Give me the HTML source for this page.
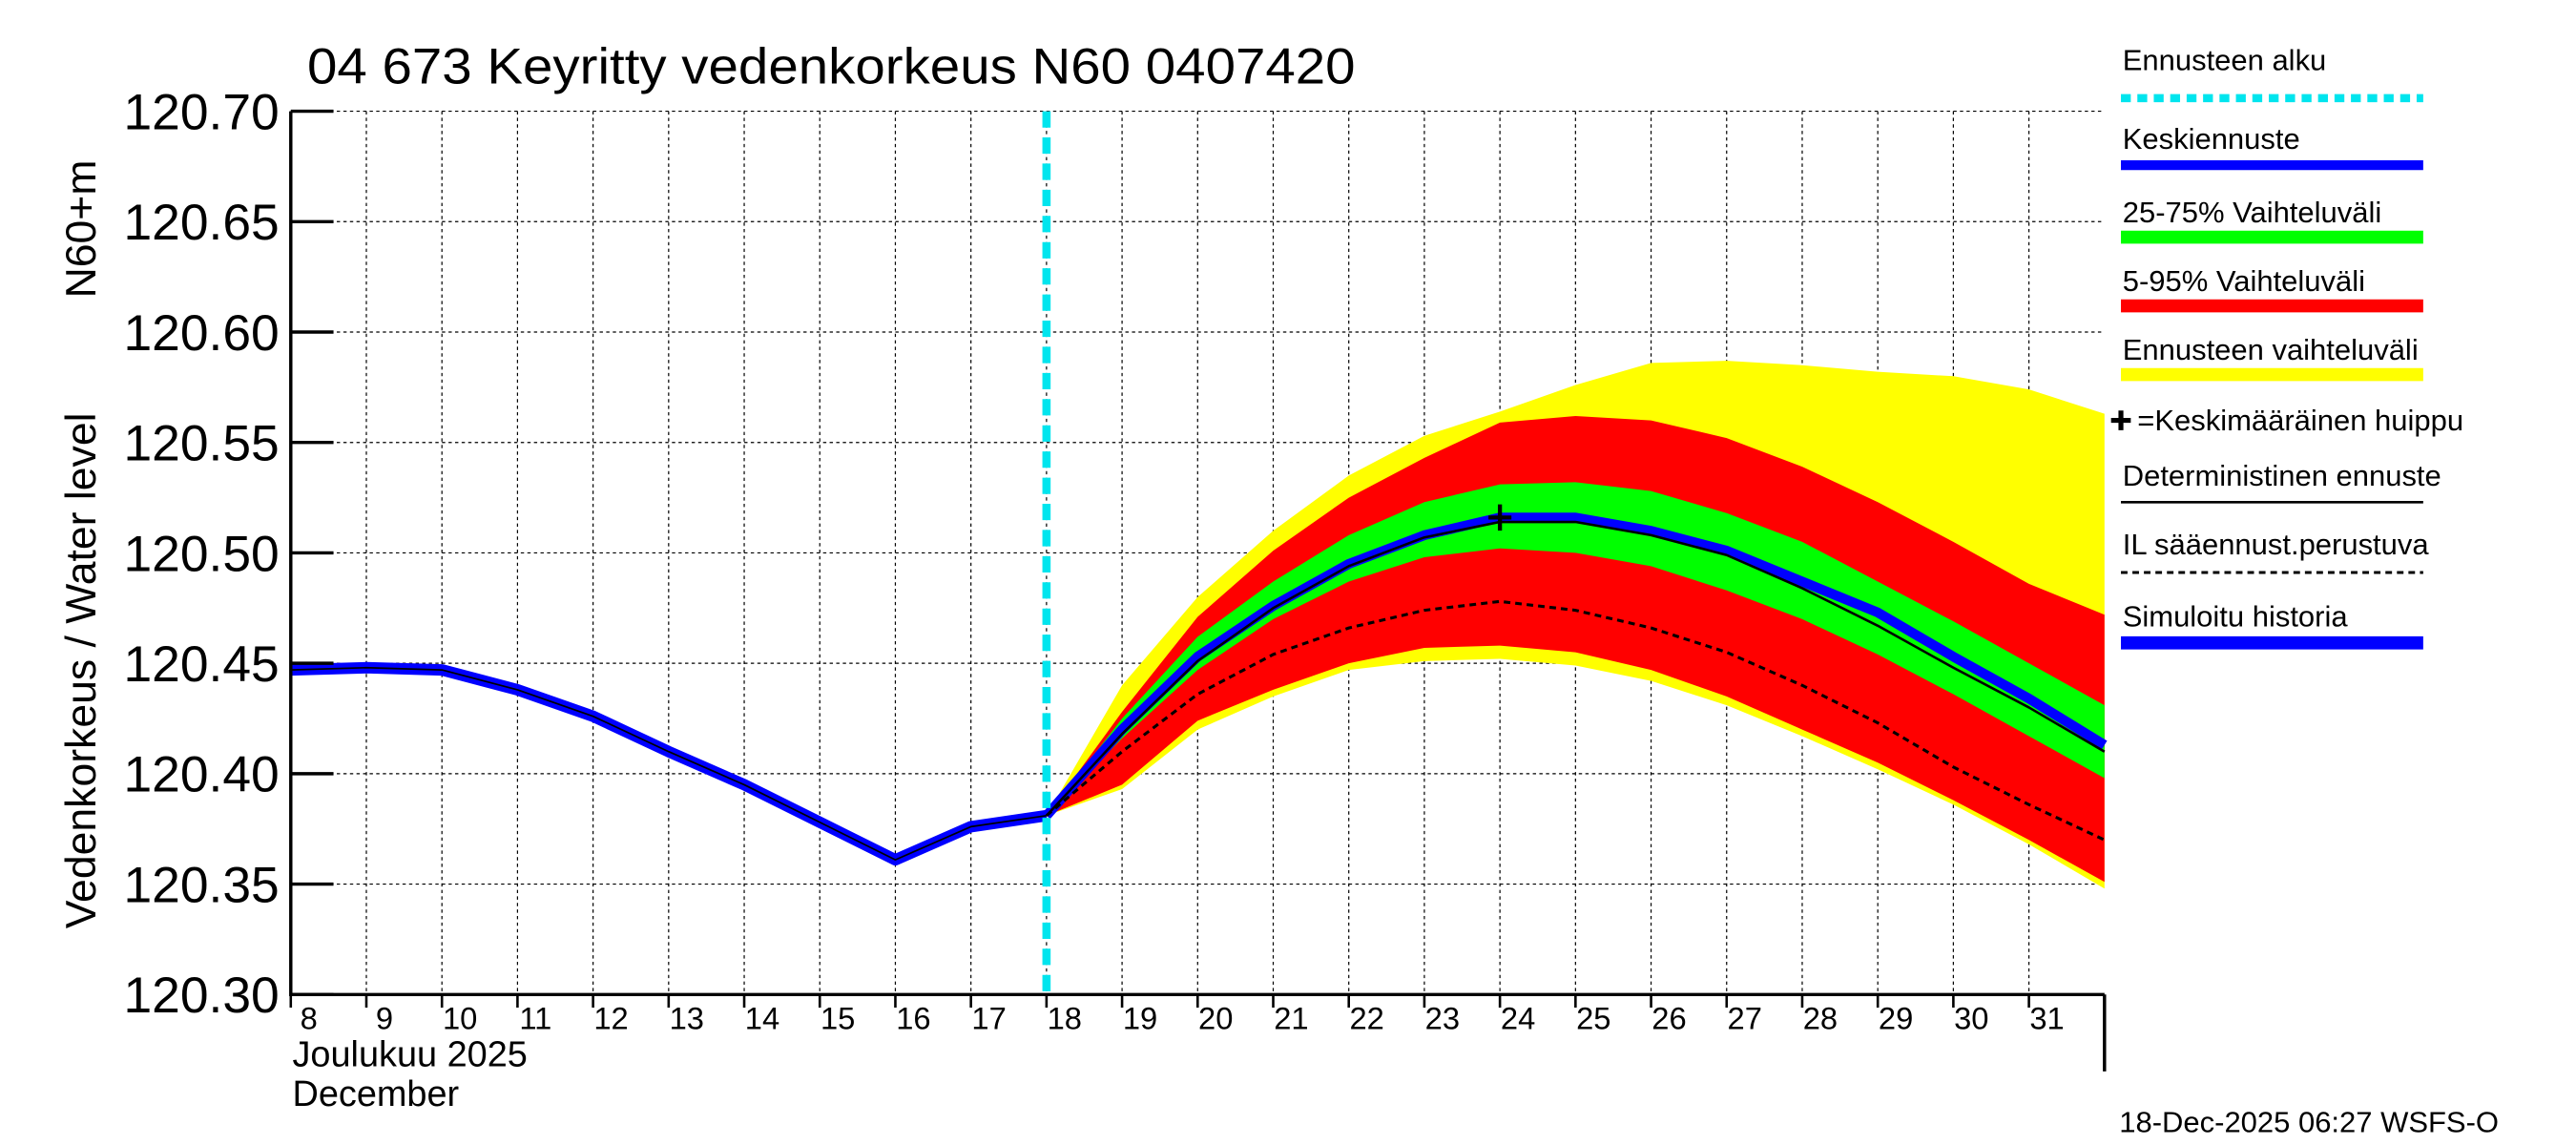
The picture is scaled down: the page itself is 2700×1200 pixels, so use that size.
<!DOCTYPE html>
<html><head><meta charset="utf-8"><style>html,body{margin:0;padding:0;background:#fff}svg{display:block}text{font-family:"Liberation Sans",sans-serif}</style></head>
<body>
<svg id="chart" width="2700" height="1200" viewBox="0 0 1568 700" preserveAspectRatio="none" xmlns="http://www.w3.org/2000/svg">
<rect width="1568" height="700" fill="#fff"/>
<g id="grid"></g>
<g id="bands"></g>
<g id="lines"></g>
<g id="axes"></g>
<text x="187" y="51" font-size="31" textLength="638" lengthAdjust="spacingAndGlyphs">04 673 Keyritty vedenkorkeus N60 0407420</text>
<text transform="translate(58,410) rotate(-90)" text-anchor="middle" font-size="26">Vedenkorkeus / Water level</text>
<text transform="translate(58,140) rotate(-90)" text-anchor="middle" font-size="26">N60+m</text>
<text x="178" y="652" font-size="22">Joulukuu  2025</text>
<text x="178" y="676" font-size="22">December</text>
<text x="1290" y="692" font-size="18">18-Dec-2025 06:27 WSFS-O</text>
<g id="legend"></g>
</svg>
<script>
const histDays=[8,9,10,11,12,13,14,15,16,17,18];
const histVals=[120.447,120.448,120.447,120.438,120.426,120.410,120.395,120.378,120.361,120.376,120.381];
const fcDays=[18,19,20,21,22,23,24,25,26,27,28,29,30,31,32];
const median=[120.381,120.420,120.453,120.476,120.495,120.508,120.516,120.516,120.510,120.501,120.487,120.473,120.453,120.434,120.413];
const yellowHi=[120.381,120.440,120.480,120.510,120.535,120.553,120.564,120.576,120.586,120.587,120.585,120.582,120.580,120.574,120.563];
const yellowLo=[120.381,120.393,120.420,120.435,120.447,120.451,120.452,120.449,120.442,120.431,120.417,120.402,120.386,120.368,120.348];
const redHi=[120.381,120.428,120.471,120.501,120.525,120.543,120.559,120.562,120.560,120.552,120.539,120.523,120.505,120.486,120.472];
const redLo=[120.381,120.395,120.424,120.438,120.450,120.457,120.458,120.455,120.447,120.435,120.420,120.405,120.388,120.370,120.351];
const greenHi=[120.381,120.425,120.462,120.487,120.508,120.523,120.531,120.532,120.528,120.518,120.505,120.487,120.469,120.450,120.431];
const greenLo=[120.381,120.416,120.447,120.470,120.487,120.498,120.502,120.500,120.494,120.483,120.470,120.454,120.436,120.417,120.398];
const determ=[120.381,120.418,120.451,120.475,120.494,120.507,120.514,120.514,120.508,120.499,120.484,120.467,120.448,120.430,120.410];
const ilFc=[120.381,120.410,120.436,120.454,120.466,120.474,120.478,120.474,120.466,120.455,120.440,120.423,120.403,120.386,120.370];
const yTicks=[120.30,120.35,120.40,120.45,120.50,120.55,120.60,120.65,120.70];
const xTicks=[8,9,10,11,12,13,14,15,16,17,18,19,20,21,22,23,24,25,26,27,28,29,30,31];
const fcStart=18, peakDay=24, peakVal=120.516;

const NS='http://www.w3.org/2000/svg';
const X0=177,X1=1281,Y0=608,Y1=68;
const xs=d=>X0+(d-8)*(X1-X0)/24;
const ys=v=>Y0-(v-120.30)/0.40*(Y0-Y1);
function mk(tag,attrs,parent){const e=document.createElementNS(NS,tag);for(const k in attrs)e.setAttribute(k,attrs[k]);parent.appendChild(e);return e;}
const G=id=>document.getElementById(id);
const grid=G('grid'),bands=G('bands'),lines=G('lines'),axes=G('axes'),legend=G('legend');

yTicks.forEach(v=>{
  const l=mk('line',{x1:X0,x2:X1,y1:ys(v),y2:ys(v),stroke:'#000','stroke-width':0.7,'stroke-dasharray':'2,2'},grid);
  
  
  const t=mk('line',{x1:X0,x2:X0+26,y1:ys(v),y2:ys(v),stroke:'#000','stroke-width':2},axes);
  
  
  const tx=mk('text',{x:X0-7,y:ys(v)+11,'text-anchor':'end','font-size':31},axes);
  tx.textContent=v.toFixed(2);
  
  
});
xTicks.forEach(d=>{
  const l=mk('line',{x1:xs(d),x2:xs(d),y1:Y1,y2:Y0,stroke:'#000','stroke-width':0.7,'stroke-dasharray':'2,2'},grid);
  
  
  const t=mk('line',{x1:xs(d),x2:xs(d),y1:Y0,y2:Y0+8,stroke:'#000','stroke-width':1.5},axes);
  
  
  const tx=mk('text',{x:xs(d)+11,y:Y0+21,'text-anchor':'middle','font-size':19},axes);
  tx.textContent=d;
  
  
});
function band(hi,lo,color,name){
  let p=fcDays.map((d,i)=>xs(d)+','+ys(hi[i])).join(' ')+' '+fcDays.map((d,i)=>xs(d)+','+ys(lo[i])).reverse().join(' ');
  const e=mk('polygon',{points:p,fill:color},bands);
  
  
}
band(yellowHi,yellowLo,'#ffff00','band-forecast-range');
band(redHi,redLo,'#ff0000','band-5-95');
band(greenHi,greenLo,'#00ff00','band-25-75');
function line(days,vals,attrs,name){
  const e=mk('polyline',Object.assign({points:days.map((d,i)=>xs(d)+','+ys(vals[i])).join(' '),fill:'none','stroke-linejoin':'round'},attrs),lines);
  
  
}
line(histDays,histVals,{stroke:'#0000ff','stroke-width':7},'simulated-history-line');
line(histDays,histVals,{stroke:'#000','stroke-width':1},'history-deterministic-line');
line(fcDays,median,{stroke:'#0000ff','stroke-width':6},'median-forecast-line');
line(fcDays,determ,{stroke:'#000','stroke-width':1.5},'deterministic-forecast-line');
line(fcDays,ilFc,{stroke:'#000','stroke-width':1.8,'stroke-dasharray':'4,3'},'il-forecast-line');
const fl=mk('line',{x1:xs(fcStart),x2:xs(fcStart),y1:Y1,y2:Y0,stroke:'#00e5ee','stroke-width':5,'stroke-dasharray':'10,6'},lines);


const pk=mk('path',{d:`M${xs(peakDay)-7},${ys(peakVal)}h14M${xs(peakDay)},${ys(peakVal)-8}v16`,stroke:'#000','stroke-width':2.5},lines);


const ax=mk('path',{d:`M${X0},${Y1}V${Y0}H${X1}M${X1},${Y0}V655`,stroke:'#000','stroke-width':2,fill:'none'},axes);



const legItems=[
 ['Ennusteen alku',43,60,'#00e5ee',5,'6,4'],
 ['Keskiennuste',91,101,'#0000ff',6,null],
 ['25-75% Vaihteluväli',136,145,'#00ff00',8,null],
 ['5-95% Vaihteluväli',178,187,'#ff0000',8,null],
 ['Ennusteen vaihteluväli',220,229,'#ffff00',8,null],
 ['=Keskimääräinen huippu',263,null,null,0,null],
 ['Deterministinen ennuste',297,307,'#000',1.5,null],
 ['IL sääennust.perustuva',339,350,'#000',1.8,'4,3'],
 ['Simuloitu historia',383,393,'#0000ff',8,null]
];
legItems.forEach(it=>{
  const isPeak=it[2]===null;
  const t=mk('text',{x:isPeak?1301:1292,y:it[1],'font-size':18},legend);
  t.textContent=it[0];
  
  
  if(isPeak){
    const p=mk('path',{d:'M1285,257h12M1291,251v12',stroke:'#000','stroke-width':3},legend);
    
    
  } else {
    const a={x1:1291,x2:1475,y1:it[2],y2:it[2],stroke:it[3],'stroke-width':it[4]};
    if(it[5])a['stroke-dasharray']=it[5];
    const l=mk('line',a,legend);
    
    
  }
});
</script>
</body></html>
